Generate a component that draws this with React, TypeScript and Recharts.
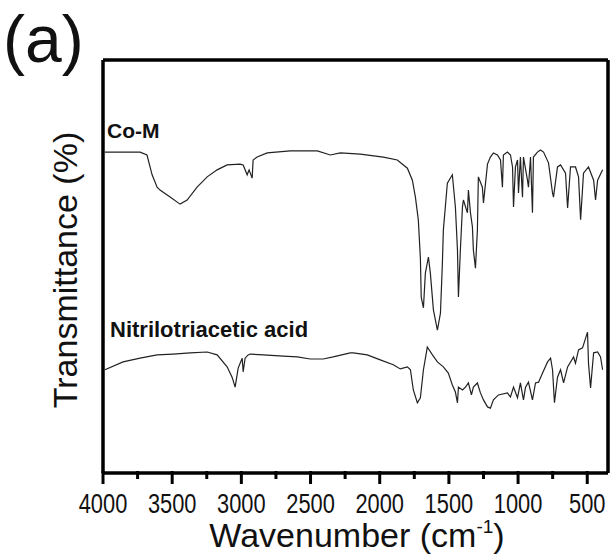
import { LineChart, Line, XAxis, YAxis } from 'recharts';

// wavenumber (cm-1) and transmittance (a.u., 0-100 scale)
const coMWavenumber = [
    3986, 3732, 3682, 3645, 3609, 3588, 3515, 3443, 3392, 3320, 3247, 3175, 3103, 3009, 2987, 2958,
    2944, 2922, 2915, 2886, 2813, 2647, 2451, 2357, 2285, 2140, 1974, 1873, 1800, 1764, 1742, 1721,
    1706, 1700, 1684, 1670, 1648, 1634, 1612, 1583, 1561, 1547, 1540, 1511, 1475, 1453, 1438, 1431,
    1417, 1402, 1395, 1366, 1359, 1344, 1330, 1323, 1308, 1294, 1287, 1258, 1250, 1221, 1200, 1178,
    1149, 1127, 1113, 1106, 1077, 1055, 1040, 1033, 1019, 1004, 997, 983, 968, 961, 932, 925, 910,
    896, 889, 860, 838, 816, 780, 751, 744, 715, 693, 657, 642, 621, 585, 563, 548, 527, 491, 454,
    440, 425, 389,
];
const coMTransmittance = [
    77.7, 77.7, 77.0, 72.2, 69.2, 68.5, 66.8, 65.1, 66.1, 69.2, 71.7, 73.4, 74.6, 74.8, 74.6, 72.2,
    73.4, 71.4, 75.8, 76.5, 77.5, 78.0, 78.0, 77.0, 77.5, 77.2, 76.5, 75.8, 73.8, 70.9, 66.8, 61.3,
    52.0, 42.6, 40.0, 48.4, 52.3, 48.4, 39.5, 34.6, 38.7, 50.8, 58.8, 70.2, 72.2, 64.4, 54.0, 42.6,
    54.0, 64.4, 66.1, 63.0, 68.5, 63.0, 59.6, 54.0, 49.6, 58.8, 71.7, 69.2, 65.4, 74.8, 76.5, 77.5,
    77.0, 75.8, 69.2, 77.0, 77.7, 77.0, 74.1, 64.4, 74.1, 75.8, 67.8, 76.5, 66.8, 76.5, 70.9, 69.2,
    76.5, 63.0, 76.5, 77.7, 78.2, 77.7, 75.1, 67.8, 66.8, 74.1, 74.6, 72.6, 64.2, 74.1, 74.1, 71.7,
    61.3, 72.6, 74.1, 70.9, 66.1, 70.9, 73.4,
];

const ntaWavenumber = [
    3986, 3855, 3732, 3609, 3493, 3370, 3247, 3175, 3103, 3067, 3045, 3023, 2994, 2987, 2973, 2951,
    2936, 2842, 2697, 2596, 2502, 2408, 2336, 2213, 2191, 2090, 1996, 1902, 1851, 1800, 1778, 1757,
    1728, 1706, 1684, 1656, 1619, 1583, 1540, 1504, 1475, 1453, 1438, 1431, 1402, 1380, 1359, 1337,
    1323, 1294, 1272, 1250, 1221, 1200, 1178, 1142, 1077, 1055, 1033, 1004, 983, 961, 946, 925, 896,
    874, 852, 823, 787, 765, 751, 737, 715, 693, 671, 642, 599, 585, 563, 534, 498, 491, 476, 454,
    425, 404, 389,
];
const ntaTransmittance = [
    25.0, 26.9, 27.8, 28.6, 28.8, 29.1, 29.3, 28.6, 25.7, 23.2, 20.8, 25.4, 27.8, 24.5, 27.8, 28.6,
    28.8, 28.6, 28.3, 28.1, 27.6, 27.6, 28.1, 29.1, 29.1, 28.6, 27.4, 26.2, 25.2, 25.7, 25.0, 20.1,
    17.0, 18.2, 25.0, 30.5, 28.6, 26.9, 25.7, 24.2, 21.3, 19.6, 17.0, 20.8, 20.1, 20.8, 21.8, 18.9,
    20.8, 21.8, 19.4, 17.7, 16.0, 15.7, 17.7, 18.9, 19.4, 18.4, 20.8, 18.2, 21.8, 17.7, 20.8, 22.0, 17.7,
    21.8, 22.0, 24.2, 26.9, 27.8, 25.0, 17.0, 23.2, 25.0, 21.8, 25.7, 28.1, 26.6, 29.8, 30.3, 34.1, 26.6, 20.6, 29.1,
    29.3, 28.1, 25.0,
];

const xTicks = [4000, 3750, 3500, 3250, 3000, 2750, 2500, 2250, 2000, 1750, 1500, 1250, 1000, 750, 500];

const coMData = coMWavenumber.map((w, i) => ({ w, t: coMTransmittance[i] }));
const ntaData = ntaWavenumber.map((w, i) => ({ w, t: ntaTransmittance[i] }));

const FONT = 'Arial, "Liberation Sans", sans-serif';
const FRAME = { stroke: '#000', strokeWidth: 3.5 };
const TICK_SIZE = 20;

// tick marks drawn in the tick component: y arrives at axis + TICK_SIZE
function XTick({ x, y, payload }: any) {
    const major = payload.value % 500 === 0;
    const axisY = y - TICK_SIZE;
    return (
        <g>
            <line
                x1={x}
                x2={x}
                y1={axisY - 2}
                y2={axisY + (major ? 11 : 6)}
                stroke='#000'
                strokeWidth={3}
            />
            {major && (
                <text
                    transform={`translate(${x},${axisY + 40}) scale(0.78,1)`}
                    textAnchor='middle'
                    fontSize={28}
                    fontFamily={FONT}
                    fill='#111'
                >
                    {payload.value}
                </text>
            )}
        </g>
    );
}

export default function App() {
    return (
        <div style={{ position: 'absolute', left: 0, top: 0, width: 615, height: 560 }}>
            <LineChart
                width={615}
                height={560}
                margin={{ top: 59, right: 6, bottom: 86, left: 102 }}
            >
                <XAxis
                    xAxisId='bottom'
                    type='number'
                    dataKey='w'
                    domain={[350, 4000]}
                    reversed
                    ticks={xTicks}
                    interval={0}
                    height={1}
                    tickSize={TICK_SIZE}
                    tickMargin={0}
                    tickLine={{ stroke: 'transparent', strokeWidth: 0 }}
                    tick={<XTick />}
                    axisLine={{ stroke: '#000', strokeWidth: 3.5 }}
                />
                <XAxis
                    xAxisId='top'
                    orientation='top'
                    type='number'
                    dataKey='w'
                    domain={[350, 4000]}
                    reversed
                    height={1}
                    tick={false}
                    tickLine={false}
                    axisLine={FRAME}
                />
                <YAxis
                    yAxisId='left'
                    type='number'
                    domain={[0, 100]}
                    width={1}
                    tick={false}
                    tickLine={false}
                    axisLine={FRAME}
                />
                <YAxis
                    yAxisId='right'
                    orientation='right'
                    type='number'
                    domain={[0, 100]}
                    width={1}
                    tick={false}
                    tickLine={false}
                    axisLine={FRAME}
                />
                <Line
                    xAxisId='bottom'
                    yAxisId='left'
                    data={coMData}
                    dataKey='t'
                    type='linear'
                    stroke='#222'
                    strokeWidth={1.2}
                    dot={false}
                    isAnimationActive={false}
                />
                <Line
                    xAxisId='bottom'
                    yAxisId='left'
                    data={ntaData}
                    dataKey='t'
                    type='linear'
                    stroke='#222'
                    strokeWidth={1.2}
                    dot={false}
                    isAnimationActive={false}
                />
            </LineChart>
            <svg
                width={615}
                height={560}
                style={{ position: 'absolute', left: 0, top: 0, pointerEvents: 'none' }}
            >
                <text x={3} y={62} fontSize={66} fontFamily={FONT} fill='#111'>
                    (a)
                </text>
                <text
                    transform='translate(77,270) rotate(-90)'
                    textAnchor='middle'
                    fontSize={34}
                    fontFamily={FONT}
                    fill='#111'
                >
                    Transmittance (%)
                </text>
                <text x={357} y={547} textAnchor='middle' fontSize={34} fontFamily={FONT} fill='#111'>
                    Wavenumber (cm
                    <tspan dy={-14} fontSize={19}>
                        -1
                    </tspan>
                    <tspan dy={14}>)</tspan>
                </text>
                <text x={107} y={138} fontSize={21} fontWeight='bold' fontFamily={FONT} fill='#111'>
                    Co-M
                </text>
                <text x={110} y={337} fontSize={22} fontWeight='bold' fontFamily={FONT} fill='#111'>
                    Nitrilotriacetic acid
                </text>
            </svg>
        </div>
    );
}
